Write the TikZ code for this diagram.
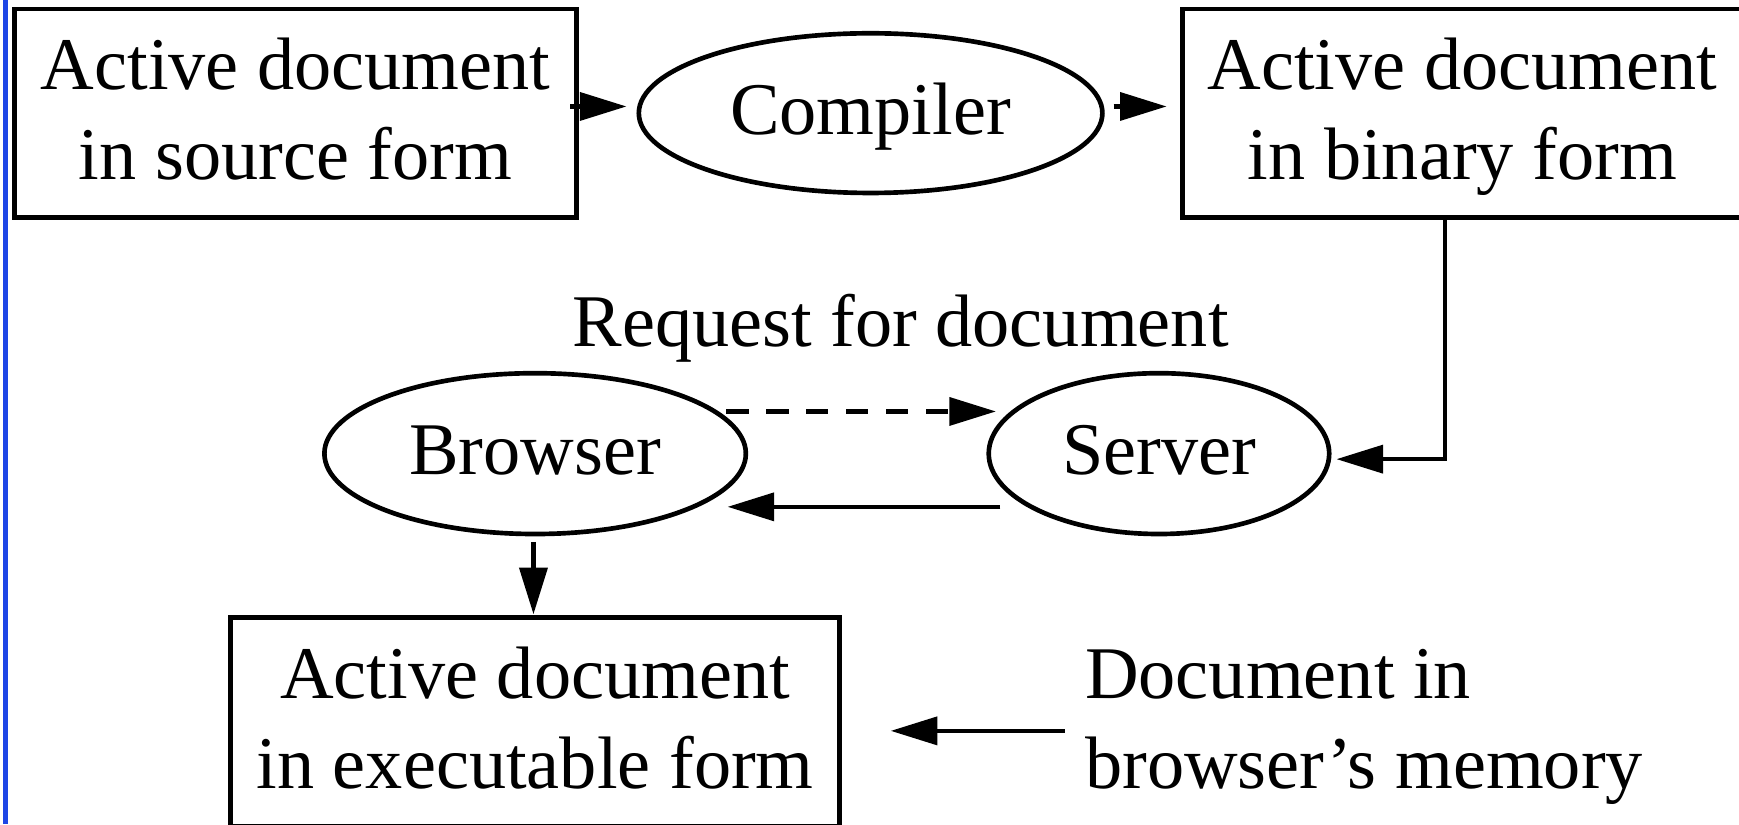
\documentclass[tikz,border=0pt]{standalone}
\usepackage{fontspec}
\setmainfont{Liberation Serif}
\usetikzlibrary{arrows.meta,shapes.geometric}
\newcommand{\lstrut}{\rule[-10.5pt]{0pt}{40.5pt}}
\definecolor{edgeblue}{RGB}{30,70,230}
\tikzset{
  every node/.style={font=\fontsize{33.5}{40.5}\selectfont},
  docbox/.style={draw, rectangle, line width=2.1pt, align=center, inner sep=0pt, minimum height=94pt},
  proc/.style={draw, ellipse, line width=2.1pt, inner sep=0pt, text height=24pt, text depth=5pt},
  conn/.style={line width=2pt, -{Triangle[length=21pt,width=12.5pt]}},
  dashconn/.style={conn, dash pattern=on 10pt off 8pt},
  label/.style={inner sep=0pt}
}
\begin{document}
\begin{tikzpicture}[x=0.5pt,y=-0.5pt]
\useasboundingbox (0,0) rectangle (1568,743);
\clip (0,0) rectangle (1568,743);
\fill[edgeblue] (2.7,0) rectangle (7,743);
\node[docbox, minimum width=253.5pt] (src) at (266.5,102) {\lstrut Active document\\\lstrut in source form};
\node[proc, minimum width=209pt, minimum height=72pt] (comp) at (785,102) {Compiler};
\node[docbox, minimum width=252.5pt] (bin) at (1318.5,102) {\lstrut Active document\\\lstrut in binary form};
\node[proc, minimum width=190pt, minimum height=72.5pt] (browser) at (482.5,409) {Browser};
\node[proc, minimum width=153.5pt, minimum height=72.5pt] (server) at (1045,409) {Server};
\node[label, anchor=base] (req) at (812,312.6) {Request for document};
\node[docbox, minimum width=274.5pt] (exe) at (482.5,651) {\lstrut Active document\\\lstrut in executable form};
\node[label, align=left, anchor=west] (mem) at (978,651) {\lstrut Document in\\\lstrut browser’s memory};
\draw[conn] ([xshift=-4pt,yshift=3pt]src.east) -- ([xshift=-4.5pt,yshift=3pt]comp.west);
\draw[conn] ([xshift=4pt,yshift=3pt]comp.east) -- ([xshift=-6pt,yshift=3pt]bin.west);
\draw[conn] ([xshift=-7.75pt]bin.south) |- ([xshift=80pt,yshift=-2.5pt]server.center);
\draw[dashconn] ([xshift=86.25pt,yshift=19pt]browser.center) -- ([xshift=-73.5pt,yshift=19pt]server.center);
\draw[conn] ([xshift=-71.5pt,yshift=-24pt]server.center) -- ([xshift=86.75pt,yshift=-24pt]browser.center);
\draw[conn] ([xshift=-0.75pt,yshift=-2.5pt]browser.south) -- ([xshift=-0.75pt,yshift=0.5pt]exe.north);
\draw[conn] ([xshift=-9pt,yshift=-4pt]mem.west) -- ([xshift=22pt,yshift=-4pt]exe.east);
\end{tikzpicture}
\end{document}
